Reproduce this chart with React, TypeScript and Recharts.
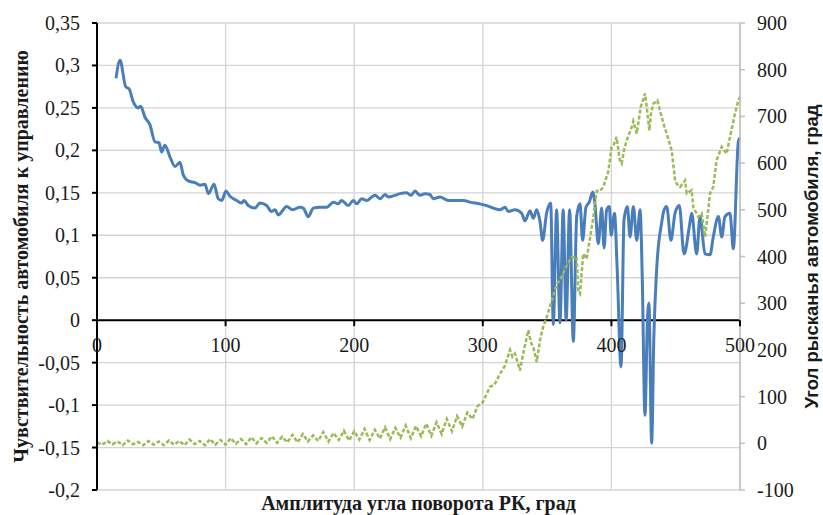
import { CartesianGrid, ComposedChart, Line, ReferenceLine, XAxis, YAxis } from "recharts";

// Sensitivity to steering (left axis)
const sensX = [
  14.8, 17.9, 22.3, 25.1, 28.2, 32.1, 33.9, 37.3, 41.2, 45.1, 48.2, 50.3, 52.8, 56.8, 60.7, 64.5, 67.1, 71,
  76.2, 80.1, 84, 86.6, 91, 94.3, 97, 100.3, 103.4, 108.6, 112.5, 114.3, 117.6, 122.9, 126.7, 131.9, 135.8,
  138.4, 141, 147.5, 152, 157.9, 160.4, 164.3, 168.2, 173.4, 178.6, 183.8, 187.6, 190.2, 195.4, 199.3, 201.9,
  205.8, 209.7, 213.6, 216.2, 220.1, 224, 226.5, 231.7, 235.6, 240.8, 244.2, 247.3, 251.2, 255, 258.9, 261.5,
  266.7, 273.2, 279.6, 284.8, 290, 297.8, 303, 308.2, 313.4, 317.3, 319.8, 325, 330.2, 332.8, 336.7, 339.3,
  341.9, 344.5, 346.5, 349.6, 352.8, 354.8, 357.4, 360, 362.5, 364.8, 367.5, 370.4, 373, 375.6, 377.6, 380.2,
  382.8, 385.5, 387.2, 389.8, 392.4, 394.3, 396.3, 398.4, 399.8, 402.4, 404.5, 407.5, 409.8, 412.4, 414.5,
  417.1, 419.7, 422.3, 424, 426.1, 428, 429.2, 431.3, 433, 435.2, 439, 441, 443, 446.3, 449.5, 452.8, 456.5,
  460.6, 462.4, 466.3, 468.9, 472.8, 476.7, 479.2, 483.2, 485.8, 488.3, 492.2, 494.8, 498.7, 500,
];
const sensY = [
  0.285, 0.306, 0.275, 0.272, 0.257, 0.25, 0.252, 0.239, 0.23, 0.21, 0.209, 0.198, 0.206, 0.192, 0.181, 0.186,
  0.171, 0.164, 0.162, 0.159, 0.16, 0.149, 0.16, 0.143, 0.141, 0.152, 0.146, 0.141, 0.138, 0.141, 0.135, 0.132,
  0.138, 0.135, 0.128, 0.13, 0.124, 0.134, 0.13, 0.133, 0.132, 0.122, 0.132, 0.133, 0.133, 0.139, 0.137, 0.141,
  0.135, 0.141, 0.137, 0.143, 0.141, 0.145, 0.147, 0.143, 0.148, 0.145, 0.147, 0.149, 0.15, 0.147, 0.152, 0.147,
  0.149, 0.148, 0.143, 0.145, 0.141, 0.141, 0.141, 0.139, 0.137, 0.135, 0.132, 0.13, 0.133, 0.128, 0.13, 0.126,
  0.117, 0.129, 0.12, 0.13, 0.116, 0.094, 0.126, 0.138, -0.005, 0.13, -0.003, 0.13, 0.0, 0.13, -0.025, 0.122,
  0.137, 0.094, 0.133, 0.139, 0.151, 0.137, 0.09, 0.132, 0.085, 0.13, 0.134, 0.1, 0.126, 0.06, -0.055, 0.118,
  0.134, 0.098, 0.134, 0.094, 0.13, 0.05, -0.112, 0.0, 0.02, -0.145, -0.02, 0.06, 0.114, 0.13, 0.134, 0.094,
  0.126, 0.135, 0.078, 0.11, 0.126, 0.078, 0.122, 0.078, 0.077, 0.098, 0.122, 0.098, 0.122, 0.126, 0.084,
  0.21, 0.215,
];

// Yaw angle, deg (right axis)
const yawX = [
  0, 4, 8, 12, 16, 20, 24, 28, 32, 36, 40, 44, 48, 52, 56, 60, 64, 68, 72, 76, 80, 84, 88, 92, 96, 100, 104,
  108, 112, 116, 120, 124, 128, 132, 136, 140, 144, 148, 152, 156, 160, 164, 168, 172, 176, 180, 184, 188, 192,
  196, 200, 204, 208, 212, 216, 220, 224, 228, 232, 236, 240, 244, 248, 252, 256, 260, 264, 268, 272, 276, 280,
  284, 288, 292, 296, 300, 305.6, 309, 313.4, 317, 321.2, 323, 325, 328.9, 332, 335.4, 337.5, 339.3, 341.9,
  344.5, 347, 349.7, 353, 357.4, 361, 365.2, 369.1, 372.9, 374.3, 375.6, 378.1, 380.8, 384.7, 386, 388.6, 391,
  393.7, 397.6, 400.2, 402, 404, 406.6, 408, 410, 411.9, 415.8, 417, 419.7, 422.8, 426.1, 427.5, 429.5, 431,
  432.6, 435.7, 439.1, 441, 443, 446.9, 449.5, 451, 453.4, 457.3, 458.6, 462.4, 463.7, 467.6, 470.2, 472.8,
  474.5, 476.7, 479.2, 481.8, 485.8, 487.5, 489.6, 492.2, 496.1, 498.7, 500,
];
const yawY = [
  2, -3, 5, -2, 4, -4, 6, -2, 3, -4, 5, -3, 4, -4, 6, -3, 5, -4, 8, -2, 5, -4, 9, -3, 7, -3, 11, -1, 9, -2,
  13, 0, 11, 1, 15, 1, 14, 2, 18, 2, 20, 4, 17, 5, 24, 4, 22, 7, 27, 6, 26, 8, 31, 7, 29, 10, 34, 9, 33, 12,
  38, 11, 37, 15, 42, 16, 45, 20, 52, 26, 58, 36, 66, 52, 80, 88, 121, 125, 149, 165, 200, 185, 192, 156, 200,
  242, 215, 206, 174, 221, 250, 270, 300, 340, 355, 380, 399, 399, 325, 320, 406, 395, 463, 485, 540, 540, 549,
  582, 635, 640, 656, 606, 599, 630, 649, 677, 690, 663, 720, 749, 720, 670, 710, 727, 734, 699, 680, 663, 627,
  563, 555, 549, 563, 535, 542, 506, 485, 492, 442, 480, 535, 549, 606, 635, 628, 620, 656, 706, 734, 742,
];

const xTicks = [0, 100, 200, 300, 400, 500];
const leftTicks = [-0.2, -0.15, -0.1, -0.05, 0, 0.05, 0.1, 0.15, 0.2, 0.25, 0.3, 0.35];
const rightTicks = [-100, 0, 100, 200, 300, 400, 500, 600, 700, 800, 900];

const sensData = sensX.map((x, i) => ({ x, s: sensY[i] }));
const yawData = yawX.map((x, i) => ({ x, yaw: yawY[i] }));

const PLOT_TOP = 23;
const PLOT_H = 467;
const ZERO_Y = PLOT_TOP + PLOT_H * (0.35 / 0.55);
const serif = "Liberation Serif";
const sans = "Liberation Sans";
const ink = "#1a1a1a";

function ZeroTick(props: any) {
  const { x, payload } = props;
  return (
    <g>
      <line x1={x} x2={x} y1={ZERO_Y} y2={ZERO_Y + 6} stroke="#000" strokeWidth={2} />
      <text x={x} y={ZERO_Y + 32} textAnchor="middle" fontFamily={serif} fontSize={20} fill={ink}>
        {payload.value}
      </text>
    </g>
  );
}

function LeftTick(props: any) {
  const { x, y, payload } = props;
  return (
    <text x={x - 10} y={y + 7} textAnchor="end" fontFamily={serif} fontSize={20} fill={ink}>
      {String(payload.value).replace(".", ",")}
    </text>
  );
}

function RightTick(props: any) {
  const { x, y, payload } = props;
  return (
    <text x={x + 10} y={y + 7} textAnchor="start" fontFamily={serif} fontSize={20} fill={ink}>
      {payload.value}
    </text>
  );
}

export default function App() {
  return (
    <div style={{ position: "absolute", left: 0, top: 0, width: 823, height: 515, overflow: "hidden", background: "#fff" }}>
      <ComposedChart width={823} height={515} margin={{ top: PLOT_TOP, right: 0, bottom: 0, left: 0 }}>
        <CartesianGrid yAxisId="left" stroke="#d4d4d4" strokeWidth={1.3} />
        <XAxis
          type="number"
          dataKey="x"
          domain={[0, 500]}
          ticks={xTicks}
          height={25}
          axisLine={false}
          tickLine={false}
          tick={<ZeroTick />}
          label={{
            value: "Амплитуда угла поворота РК, град",
            position: "insideBottom",
            offset: 5,
            style: { fontFamily: serif, fontWeight: "bold", fontSize: 20, fill: ink },
          }}
        />
        <YAxis
          yAxisId="left"
          width={97}
          domain={[-0.2, 0.35]}
          ticks={leftTicks}
          interval={0}
          allowDataOverflow
          axisLine={{ stroke: "#000", strokeWidth: 2 }}
          tickLine={{ stroke: "#000", strokeWidth: 2 }}
          tickSize={5}
          tick={<LeftTick />}
          label={{
            value: "Чувствительность автомобиля к управлению",
            angle: -90,
            position: "insideLeft",
            offset: 21,
            style: { textAnchor: "middle", fontFamily: serif, fontWeight: "bold", fontSize: 20, fill: ink },
          }}
        />
        <YAxis
          yAxisId="right"
          orientation="right"
          width={83}
          domain={[-100, 900]}
          ticks={rightTicks}
          interval={0}
          allowDataOverflow
          axisLine={{ stroke: "#bfbfbf", strokeWidth: 1.5 }}
          tickLine={{ stroke: "#bfbfbf", strokeWidth: 1.5 }}
          tickSize={5}
          tick={<RightTick />}
          label={{
            value: "Угол рысканья автомобиля, град",
            angle: -90,
            position: "insideRight",
            offset: 12,
            style: { textAnchor: "middle", fontFamily: sans, fontWeight: "bold", fontSize: 18.5, fill: ink },
          }}
        />
        <ReferenceLine yAxisId="left" y={0} stroke="#000" strokeWidth={2} />
        <Line
          yAxisId="left"
          data={sensData}
          dataKey="s"
          type="monotone"
          stroke="#4a7ebb"
          strokeWidth={3}
          dot={false}
          isAnimationActive={false}
        />
        <Line
          yAxisId="right"
          data={yawData}
          dataKey="yaw"
          type="linear"
          stroke="#9bbb59"
          strokeWidth={2.5}
          strokeDasharray="4 2"
          dot={false}
          isAnimationActive={false}
        />
      </ComposedChart>
    </div>
  );
}
